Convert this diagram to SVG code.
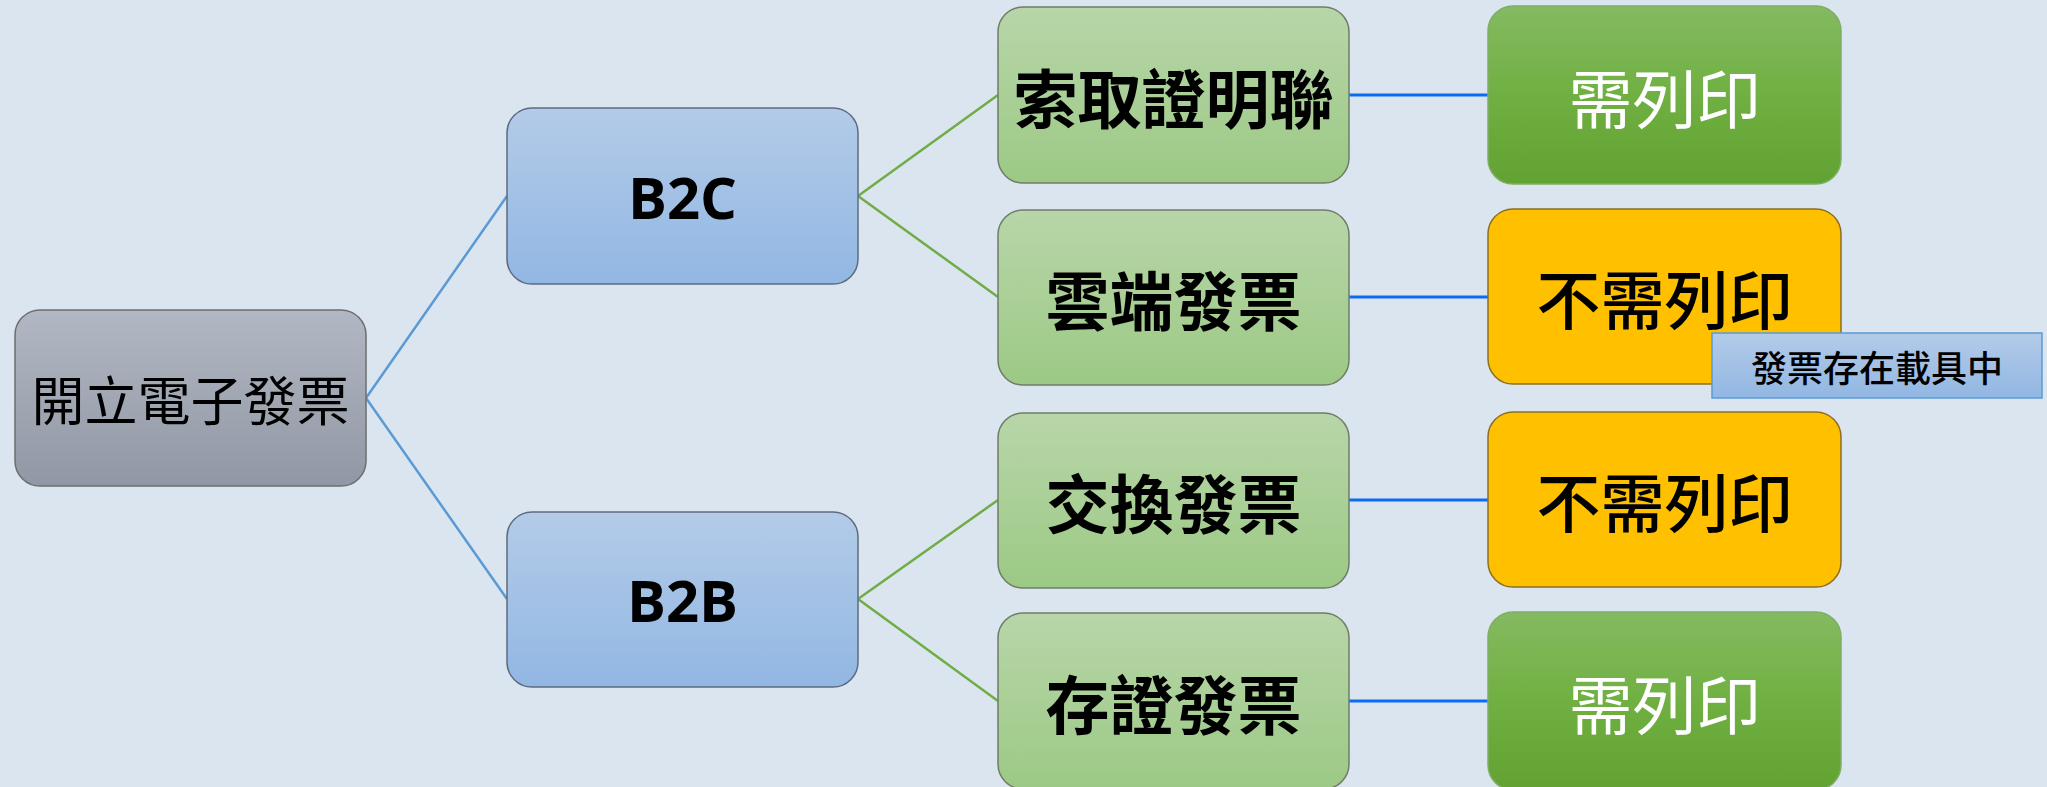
<svg xmlns="http://www.w3.org/2000/svg" width="2047" height="787" viewBox="0 0 2047 787">
<style>
.t{font-family:"Noto Sans CJK TC","Noto Sans CJK SC",sans-serif;text-anchor:middle;dominant-baseline:central}
.lat{font-family:"Open Sans","Liberation Sans",sans-serif;font-weight:700;text-anchor:middle;dominant-baseline:central;font-size:58px}
.c1{stroke:#5b9bd5;stroke-width:2.5;fill:none}
.c2{stroke:#70ad47;stroke-width:2.5;fill:none}
.c3{stroke:#0a6cf0;stroke-width:3;fill:none}
</style>
<defs>
<linearGradient id="gGray" x1="0" y1="0" x2="0" y2="1"><stop offset="0" stop-color="#b1b8c3"/><stop offset="1" stop-color="#9198a5"/></linearGradient>
<linearGradient id="gBlue" x1="0" y1="0" x2="0" y2="1"><stop offset="0" stop-color="#b3cbe8"/><stop offset="1" stop-color="#92b7e3"/></linearGradient>
<linearGradient id="gLG" x1="0" y1="0" x2="0" y2="1"><stop offset="0" stop-color="#b8d6a9"/><stop offset="1" stop-color="#9cc985"/></linearGradient>
<linearGradient id="gDG" x1="0" y1="0" x2="0" y2="1"><stop offset="0" stop-color="#84ba61"/><stop offset="0.5" stop-color="#70b042"/><stop offset="1" stop-color="#62a232"/></linearGradient>
</defs>
<rect width="2047" height="787" fill="#dbe5ef"/>
<g id="connectors">
<path class="c1" d="M366 398 L507 196 M366 398 L507 599"/>
<path class="c2" d="M858 196 L998 95 M858 196 L998 297 M858 599 L998 500 M858 599 L998 701"/>
<path class="c3" d="M1349 95 H1488 M1349 297 H1488 M1349 500 H1488 M1349 701 H1488"/>
</g>
<g id="root"><rect x="15" y="310" width="351" height="176" rx="25" fill="url(#gGray)" stroke="#6e6e6e" stroke-width="1.5"/><text class="t" x="190.5" y="398" font-size="53">開立電子發票</text></g>
<g id="b2c"><rect x="507" y="108" width="351" height="176" rx="25" fill="url(#gBlue)" stroke="#5d6b80" stroke-width="1.5"/><text class="lat" x="682.5" y="196">B2C</text></g>
<g id="b2b"><rect x="507" y="512" width="351" height="175" rx="25" fill="url(#gBlue)" stroke="#5d6b80" stroke-width="1.5"/><text class="lat" x="682.5" y="599">B2B</text></g>
<g id="n1"><rect x="998" y="7" width="351" height="176" rx="25" fill="url(#gLG)" stroke="#6f7d67" stroke-width="1.5"/><text class="t" x="1173.5" y="95" font-size="64" font-weight="700">索取證明聯</text></g>
<g id="n2"><rect x="998" y="210" width="351" height="175" rx="25" fill="url(#gLG)" stroke="#6f7d67" stroke-width="1.5"/><text class="t" x="1173.5" y="297" font-size="64" font-weight="700">雲端發票</text></g>
<g id="n3"><rect x="998" y="413" width="351" height="175" rx="25" fill="url(#gLG)" stroke="#6f7d67" stroke-width="1.5"/><text class="t" x="1173.5" y="500" font-size="64" font-weight="700">交換發票</text></g>
<g id="n4"><rect x="998" y="613" width="351" height="176" rx="25" fill="url(#gLG)" stroke="#6f7d67" stroke-width="1.5"/><text class="t" x="1173.5" y="701" font-size="64" font-weight="700">存證發票</text></g>
<g id="p1"><rect x="1488" y="6" width="353" height="178" rx="25" fill="url(#gDG)" stroke="#7fae63" stroke-width="1.5"/><text class="t" x="1664.5" y="95" font-size="64" fill="#ffffff">需列印</text></g>
<g id="p2"><rect x="1488" y="209" width="353" height="175" rx="25" fill="#ffc000" stroke="#8a6f22" stroke-width="1.5"/><text class="t" x="1664.5" y="296" font-size="64" font-weight="500">不需列印</text></g>
<g id="p3"><rect x="1488" y="412" width="353" height="175" rx="25" fill="#ffc000" stroke="#8a6f22" stroke-width="1.5"/><text class="t" x="1664.5" y="499" font-size="64" font-weight="500">不需列印</text></g>
<g id="p4"><rect x="1488" y="612" width="353" height="178" rx="25" fill="url(#gDG)" stroke="#7fae63" stroke-width="1.5"/><text class="t" x="1664.5" y="701" font-size="64" fill="#ffffff">需列印</text></g>
<g id="label"><rect x="1712" y="333" width="330" height="65" fill="url(#gBlue)" stroke="#5b9bd5" stroke-width="1.5"/><text class="t" x="1877" y="366" font-size="36" font-weight="500">發票存在載具中</text></g>
</svg>
